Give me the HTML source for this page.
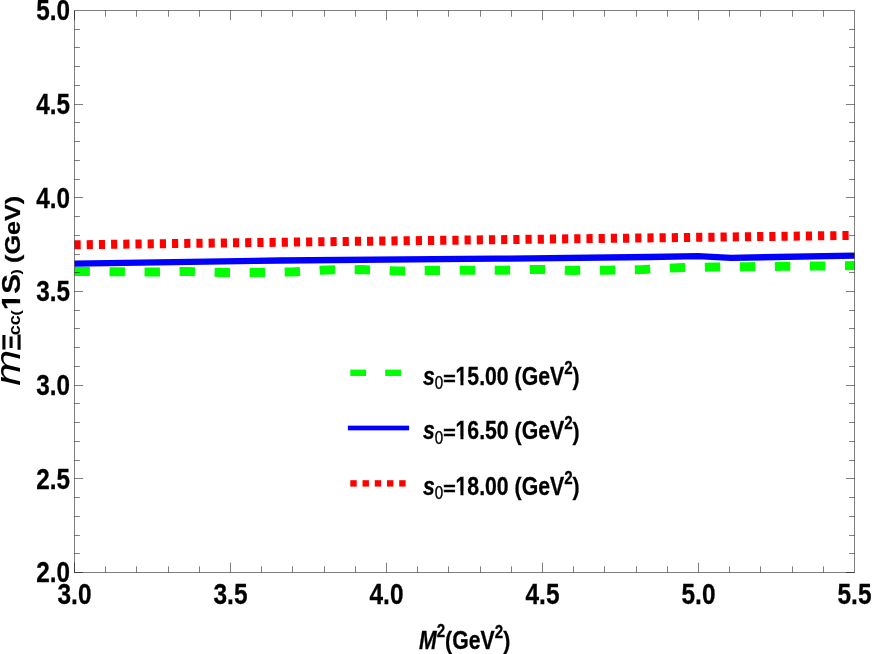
<!DOCTYPE html>
<html><head><meta charset="utf-8"><title>plot</title>
<style>html,body{margin:0;padding:0;background:#fff;}svg{display:block;will-change:transform;}text{font-family:"Liberation Sans", sans-serif;fill:#000;font-kerning:none;}.b{stroke:#000;stroke-width:0.3px;}</style>
</head><body>
<svg width="872" height="654" viewBox="0 0 872 654">
<defs><clipPath id="cp"><rect x="74.0" y="10.5" width="781.0" height="562.0"/></clipPath></defs>
<g clip-path="url(#cp)" fill="none" stroke-linejoin="round">
<polyline points="74.5,271.4 82.0,271.3 117.0,271.8 152.0,272.0 187.0,271.5 222.0,272.4 257.0,272.5 292.0,272.0 327.5,269.9 362.5,269.6 397.5,271.0 432.5,270.5 467.5,270.2 502.5,270.3 538.0,269.4 573.0,270.4 608.0,270.2 643.0,269.5 678.0,267.7 713.0,267.1 747.5,266.7 782.5,266.3 818.0,266.0 854.5,265.5" stroke="#00ff00" stroke-width="9" stroke-dasharray="15.4 19.63"/>
<polyline points="74.5,263.7 280.0,260.5 495.0,258.7 650.0,257.0 698.0,256.1 731.0,257.8 854.5,255.7" stroke="#0000ff" stroke-width="6.3"/>
<polyline points="74.5,244.8 285.0,242.2 495.0,239.7 710.0,237.2 854.5,235.4" stroke="#ff0000" stroke-width="9" stroke-dasharray="6.2 5.99"/>
</g>
<g stroke="#000" stroke-opacity="0.5" stroke-width="1" fill="none">
<rect x="74.5" y="10.5" width="780.0" height="562.0"/>
<path d="M74.50 572.5v-9.8M74.50 10.5v9.8M105.50 572.5v-6.2M105.50 10.5v6.2M136.50 572.5v-6.2M136.50 10.5v6.2M168.50 572.5v-6.2M168.50 10.5v6.2M199.50 572.5v-6.2M199.50 10.5v6.2M230.50 572.5v-9.8M230.50 10.5v9.8M261.50 572.5v-6.2M261.50 10.5v6.2M292.50 572.5v-6.2M292.50 10.5v6.2M324.50 572.5v-6.2M324.50 10.5v6.2M355.50 572.5v-6.2M355.50 10.5v6.2M386.50 572.5v-9.8M386.50 10.5v9.8M417.50 572.5v-6.2M417.50 10.5v6.2M448.50 572.5v-6.2M448.50 10.5v6.2M480.50 572.5v-6.2M480.50 10.5v6.2M511.50 572.5v-6.2M511.50 10.5v6.2M542.50 572.5v-9.8M542.50 10.5v9.8M573.50 572.5v-6.2M573.50 10.5v6.2M604.50 572.5v-6.2M604.50 10.5v6.2M636.50 572.5v-6.2M636.50 10.5v6.2M667.50 572.5v-6.2M667.50 10.5v6.2M698.50 572.5v-9.8M698.50 10.5v9.8M729.50 572.5v-6.2M729.50 10.5v6.2M760.50 572.5v-6.2M760.50 10.5v6.2M792.50 572.5v-6.2M792.50 10.5v6.2M823.50 572.5v-6.2M823.50 10.5v6.2"/>
<path d="M74.5 572.50h8.6M854.5 572.50h-8.6M74.5 553.50h5.4M854.5 553.50h-5.4M74.5 535.50h5.4M854.5 535.50h-5.4M74.5 516.50h5.4M854.5 516.50h-5.4M74.5 497.50h5.4M854.5 497.50h-5.4M74.5 478.50h8.6M854.5 478.50h-8.6M74.5 460.50h5.4M854.5 460.50h-5.4M74.5 441.50h5.4M854.5 441.50h-5.4M74.5 422.50h5.4M854.5 422.50h-5.4M74.5 403.50h5.4M854.5 403.50h-5.4M74.5 385.50h8.6M854.5 385.50h-8.6M74.5 366.50h5.4M854.5 366.50h-5.4M74.5 347.50h5.4M854.5 347.50h-5.4M74.5 328.50h5.4M854.5 328.50h-5.4M74.5 310.50h5.4M854.5 310.50h-5.4M74.5 291.50h8.6M854.5 291.50h-8.6M74.5 272.50h5.4M854.5 272.50h-5.4M74.5 254.50h5.4M854.5 254.50h-5.4M74.5 235.50h5.4M854.5 235.50h-5.4M74.5 216.50h5.4M854.5 216.50h-5.4M74.5 197.50h8.6M854.5 197.50h-8.6M74.5 179.50h5.4M854.5 179.50h-5.4M74.5 160.50h5.4M854.5 160.50h-5.4M74.5 141.50h5.4M854.5 141.50h-5.4M74.5 122.50h5.4M854.5 122.50h-5.4M74.5 104.50h8.6M854.5 104.50h-8.6M74.5 85.50h5.4M854.5 85.50h-5.4M74.5 66.50h5.4M854.5 66.50h-5.4M74.5 47.50h5.4M854.5 47.50h-5.4M74.5 29.50h5.4M854.5 29.50h-5.4"/>
</g>
<filter id="sf" x="-5%" y="-5%" width="110%" height="110%"><feGaussianBlur stdDeviation="0.4"/></filter>
<g filter="url(#sf)">
<text class="b" transform="translate(70.10 582.35) scale(0.815 1)" font-size="29.80" font-weight="bold" font-style="normal" text-anchor="end">2.0</text>
<text class="b" transform="translate(70.10 488.68) scale(0.815 1)" font-size="29.80" font-weight="bold" font-style="normal" text-anchor="end">2.5</text>
<text class="b" transform="translate(70.10 395.02) scale(0.815 1)" font-size="29.80" font-weight="bold" font-style="normal" text-anchor="end">3.0</text>
<text class="b" transform="translate(70.10 301.35) scale(0.815 1)" font-size="29.80" font-weight="bold" font-style="normal" text-anchor="end">3.5</text>
<text class="b" transform="translate(70.10 207.68) scale(0.815 1)" font-size="29.80" font-weight="bold" font-style="normal" text-anchor="end">4.0</text>
<text class="b" transform="translate(70.10 114.02) scale(0.815 1)" font-size="29.80" font-weight="bold" font-style="normal" text-anchor="end">4.5</text>
<text class="b" transform="translate(70.10 20.35) scale(0.815 1)" font-size="29.80" font-weight="bold" font-style="normal" text-anchor="end">5.0</text>
<text class="b" transform="translate(74.50 603.90) scale(0.812 1)" font-size="30.10" font-weight="bold" font-style="normal" text-anchor="middle">3.0</text>
<text class="b" transform="translate(230.50 603.90) scale(0.812 1)" font-size="30.10" font-weight="bold" font-style="normal" text-anchor="middle">3.5</text>
<text class="b" transform="translate(386.50 603.90) scale(0.812 1)" font-size="30.10" font-weight="bold" font-style="normal" text-anchor="middle">4.0</text>
<text class="b" transform="translate(542.50 603.90) scale(0.812 1)" font-size="30.10" font-weight="bold" font-style="normal" text-anchor="middle">4.5</text>
<text class="b" transform="translate(698.50 603.90) scale(0.812 1)" font-size="30.10" font-weight="bold" font-style="normal" text-anchor="middle">5.0</text>
<text class="b" transform="translate(854.50 603.90) scale(0.812 1)" font-size="30.10" font-weight="bold" font-style="normal" text-anchor="middle">5.5</text>
<defs><clipPath id="c1"><path clip-rule="evenodd" d="M-50 -60H400V40H-50ZM-0.51 -3.31H5.93V5.10H-0.51ZM9.49 -3.31H14.28V5.10H9.49Z"/></clipPath><clipPath id="c2"><path clip-rule="evenodd" d="M-50 -60H400V40H-50ZM-0.59 -3.83H6.86V5.90H-0.59ZM10.97 -3.83H16.52V5.90H10.97Z"/></clipPath></defs>
<text class="b" transform="translate(419.00 648.70) scale(0.833 1.000)" font-size="25.50" font-weight="bold" font-style="italic">M</text>
<text class="b" transform="translate(436.69 637.00) scale(0.833 1.000)" font-size="18.20" font-weight="bold" font-style="normal">2</text>
<text class="b" transform="translate(445.12 649.08) scale(0.833 0.928)" font-size="25.50" font-weight="bold" font-style="normal">(</text>
<text class="b" transform="translate(452.20 648.70) scale(0.833 1.000)" font-size="25.50" font-weight="bold" font-style="normal">GeV</text>
<text class="b" transform="translate(494.70 638.20) scale(0.833 1.000)" font-size="18.20" font-weight="bold" font-style="normal">2</text>
<text class="b" transform="translate(503.13 649.08) scale(0.833 0.928)" font-size="25.50" font-weight="bold" font-style="normal">)</text>
<rect x="350.3" y="369.6" width="15.8" height="6.4" fill="#00ff00"/>
<rect x="385.2" y="369.6" width="15.9" height="6.4" fill="#00ff00"/>
<rect x="347.9" y="425.65" width="61.2" height="4.7" fill="#0000ff"/>
<rect x="350.30" y="480.2" width="6.4" height="6.4" fill="#ff0000"/>
<rect x="362.53" y="480.2" width="6.4" height="6.4" fill="#ff0000"/>
<rect x="374.76" y="480.2" width="6.4" height="6.4" fill="#ff0000"/>
<rect x="386.99" y="480.2" width="6.4" height="6.4" fill="#ff0000"/>
<rect x="399.22" y="480.2" width="6.4" height="6.4" fill="#ff0000"/>
<text class="b" transform="translate(422.90 384.50) scale(0.833 1.000)" font-size="25.50" font-weight="bold" font-style="italic">s</text>
<text stroke="#000" stroke-width="0.4" transform="translate(434.71 388.90) scale(0.833 1.000)" font-size="18.20" font-weight="normal" font-style="normal">0</text>
<text stroke="#000" stroke-width="0.8" transform="translate(443.15 384.60) scale(0.833 0.750)" font-size="25.50" font-weight="bold" font-style="normal">=</text>
<text class="b" clip-path="url(#c1)" transform="translate(455.55 384.50) scale(0.833 1.000)" font-size="25.50" font-weight="bold" font-style="normal">15.00 </text>
<text class="b" transform="translate(514.61 384.88) scale(0.833 0.928)" font-size="25.50" font-weight="bold" font-style="normal">(</text>
<text class="b" transform="translate(521.68 384.50) scale(0.833 1.000)" font-size="25.50" font-weight="bold" font-style="normal">GeV</text>
<text class="b" transform="translate(564.18 374.00) scale(0.833 1.000)" font-size="18.20" font-weight="bold" font-style="normal">2</text>
<text class="b" transform="translate(572.62 384.88) scale(0.833 0.928)" font-size="25.50" font-weight="bold" font-style="normal">)</text>
<text class="b" transform="translate(422.90 439.35) scale(0.833 1.000)" font-size="25.50" font-weight="bold" font-style="italic">s</text>
<text stroke="#000" stroke-width="0.4" transform="translate(434.71 443.75) scale(0.833 1.000)" font-size="18.20" font-weight="normal" font-style="normal">0</text>
<text stroke="#000" stroke-width="0.8" transform="translate(443.15 439.45) scale(0.833 0.750)" font-size="25.50" font-weight="bold" font-style="normal">=</text>
<text class="b" clip-path="url(#c1)" transform="translate(455.55 439.35) scale(0.833 1.000)" font-size="25.50" font-weight="bold" font-style="normal">16.50 </text>
<text class="b" transform="translate(514.61 439.73) scale(0.833 0.928)" font-size="25.50" font-weight="bold" font-style="normal">(</text>
<text class="b" transform="translate(521.68 439.35) scale(0.833 1.000)" font-size="25.50" font-weight="bold" font-style="normal">GeV</text>
<text class="b" transform="translate(564.18 428.85) scale(0.833 1.000)" font-size="18.20" font-weight="bold" font-style="normal">2</text>
<text class="b" transform="translate(572.62 439.73) scale(0.833 0.928)" font-size="25.50" font-weight="bold" font-style="normal">)</text>
<text class="b" transform="translate(422.90 494.70) scale(0.833 1.000)" font-size="25.50" font-weight="bold" font-style="italic">s</text>
<text stroke="#000" stroke-width="0.4" transform="translate(434.71 499.10) scale(0.833 1.000)" font-size="18.20" font-weight="normal" font-style="normal">0</text>
<text stroke="#000" stroke-width="0.8" transform="translate(443.15 494.80) scale(0.833 0.750)" font-size="25.50" font-weight="bold" font-style="normal">=</text>
<text class="b" clip-path="url(#c1)" transform="translate(455.55 494.70) scale(0.833 1.000)" font-size="25.50" font-weight="bold" font-style="normal">18.00 </text>
<text class="b" transform="translate(514.61 495.08) scale(0.833 0.928)" font-size="25.50" font-weight="bold" font-style="normal">(</text>
<text class="b" transform="translate(521.68 494.70) scale(0.833 1.000)" font-size="25.50" font-weight="bold" font-style="normal">GeV</text>
<text class="b" transform="translate(564.18 484.20) scale(0.833 1.000)" font-size="18.20" font-weight="bold" font-style="normal">2</text>
<text class="b" transform="translate(572.62 495.08) scale(0.833 0.928)" font-size="25.50" font-weight="bold" font-style="normal">)</text>
<text transform="translate(20.15 385.70) scale(0.833 1) rotate(-90)" font-size="43.20" font-weight="normal" font-style="italic">m</text>
<text stroke="#000" stroke-width="1.3" transform="translate(20.15 350.20) scale(0.965 1) rotate(-90)" font-size="24.80" font-weight="normal" font-style="normal">&#926;</text>
<text transform="translate(20.15 335.20) scale(0.870 1) rotate(-90)" font-size="18.00" font-weight="bold" font-style="normal">cc</text>
<text transform="translate(20.15 315.60) scale(0.833 1) rotate(-90)" font-size="16.00" font-weight="bold" font-style="normal">(</text>
<text class="b" clip-path="url(#c2)" transform="translate(20.15 310.10) scale(0.890 1) rotate(-90)" font-size="29.50" font-weight="bold" font-style="normal">1S</text>
<text transform="translate(20.15 274.40) scale(0.833 1) rotate(-90)" font-size="16.00" font-weight="bold" font-style="normal">)</text>
<text class="b" transform="translate(19.95 263.00) scale(0.790 1) rotate(-90)" font-size="25.20" font-weight="bold" font-style="normal">(</text>
<text class="b" transform="translate(20.15 254.61) scale(0.910 1) rotate(-90)" font-size="25.20" font-weight="bold" font-style="normal">GeV</text>
<text class="b" transform="translate(19.95 204.18) scale(0.790 1) rotate(-90)" font-size="25.20" font-weight="bold" font-style="normal">)</text>
</g>
</svg>
</body></html>
